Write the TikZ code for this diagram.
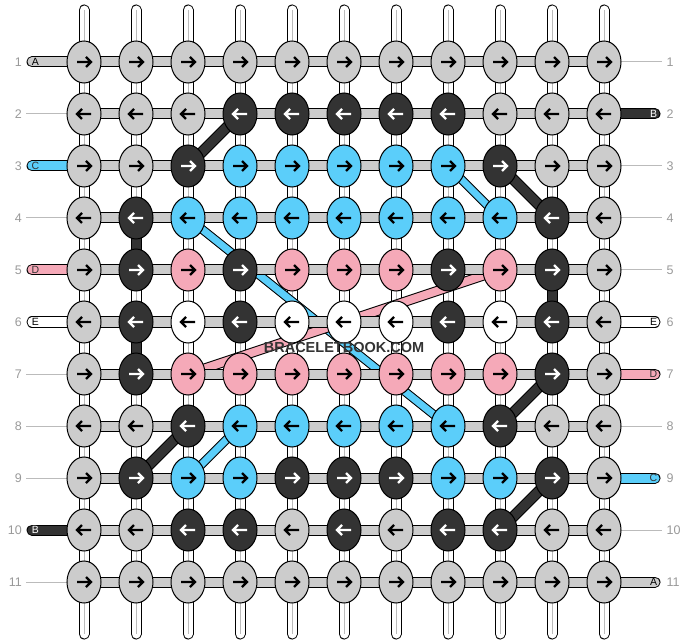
\documentclass[tikz,border=0pt]{standalone}
\usepackage{fontspec}
\setmainfont{Liberation Sans}
\usetikzlibrary{shapes.geometric}
\definecolor{kL}{HTML}{CCCCCC}
\definecolor{kD}{HTML}{333333}
\definecolor{kB}{HTML}{5BCEFA}
\definecolor{kP}{HTML}{F5A9B8}
\definecolor{kW}{HTML}{FFFFFF}
\definecolor{aL}{HTML}{000000}
\definecolor{aD}{HTML}{FFFFFF}
\definecolor{aB}{HTML}{000000}
\definecolor{aP}{HTML}{000000}
\definecolor{aW}{HTML}{000000}
\definecolor{labgray}{HTML}{999999}
\definecolor{linegray}{HTML}{BBBBBB}
\tikzset{
  knot/.style={ellipse, draw=black, line width=1pt, minimum width=34pt, minimum height=42pt, inner sep=0pt},
  arrowline/.style={line width=2.3pt, line cap=butt, line join=miter},
  vstrand/.style={draw=black, line width=1pt, double=white, double distance=9pt, line cap=round},
  vcenter/.style={draw=linegray, line width=1pt},
  hbar/.style={draw=black, line width=1pt, double=kL, double distance=9pt, line cap=butt},
  sidestrand/.style={draw=black, line width=1pt, double distance=9pt, line cap=round},
  diagline/.style={draw=black, line width=1pt, line cap=butt},
  vdark/.style={draw=black, line width=1pt, double=kD, double distance=9pt, line cap=butt},
  labline/.style={draw=linegray, line width=1pt},
  numlab/.style={text=labgray, font=\fontsize{12.5}{12.5}\selectfont, inner sep=0pt},
  endlab/.style={font=\fontsize{10.5}{10.5}\selectfont, inner sep=0pt},
}
\begin{document}
\begin{tikzpicture}[x=1pt,y=-1pt]
\useasboundingbox (0,0) rectangle (688,644);
% grid coordinates
\foreach \rw in {1,...,11}{
  \foreach \cl in {1,...,11}{
    \coordinate (p-\rw-\cl) at ({84+52*(\cl-1)},{62+52*(\rw-1)});
  }
  \coordinate (le-\rw) at (32,{62+52*(\rw-1)});
  \coordinate (re-\rw) at (655,{62+52*(\rw-1)});
  \coordinate (ll-\rw) at (26,{62+52*(\rw-1)});
  \coordinate (rl-\rw) at (662,{62+52*(\rw-1)});
}
\foreach \cl in {1,...,11}{
  \coordinate (t-\cl) at ({84+52*(\cl-1)},10);
  \coordinate (b-\cl) at ({84+52*(\cl-1)},634);
}
% vertical strands
\foreach \cl in {1,...,11}{
  \draw[vstrand] (t-\cl) -- (b-\cl);
  \draw[vcenter] (t-\cl) -- (b-\cl);
}
% diagonal strands
\draw[diagline, double=kD, double distance=9pt] (p-2-4) -- (p-3-3);
\draw[diagline, double=kB, double distance=7pt] (p-3-8) -- (p-4-9);
\draw[diagline, double=kD, double distance=9pt] (p-3-9) -- (p-4-10);
\draw[diagline, double=kB, double distance=7pt] (p-4-3) -- (p-8-8);
\draw[diagline, double=kP, double distance=8pt] (p-7-3) -- (p-5-9);
\draw[diagline, double=kD, double distance=9pt] (p-8-3) -- (p-9-2);
\draw[diagline, double=kB, double distance=7pt] (p-8-4) -- (p-9-3);
\draw[diagline, double=kD, double distance=9pt] (p-7-10) -- (p-8-9);
\draw[diagline, double=kD, double distance=9pt] (p-9-10) -- (p-10-9);
% horizontal bars
\foreach \rw in {1,...,11}{
  \draw[hbar] (p-\rw-1) -- (p-\rw-11);
}
% side lines for rows without strands
\foreach \rw in {2,4,7,8,9,11}{ \draw[labline] (ll-\rw) -- (p-\rw-1); }
\foreach \rw in {1,3,4,5,8,10}{ \draw[labline] (p-\rw-11) -- (rl-\rw); }
% side strands with letters
\foreach \rw/\col/\txt/\tc in {1/kL/A/black, 3/kB/C/kD, 5/kP/D/kD, 6/kW/E/black, 10/kD/B/white}{
  \draw[sidestrand, double=\col] (le-\rw) -- (p-\rw-1);
  \node[endlab, text=\tc] (lt-\rw) at (35.5,{62+52*(\rw-1)}) {\txt};
}
\foreach \rw/\col/\txt/\tc in {2/kD/B/white, 6/kW/E/black, 7/kP/D/kD, 9/kB/C/kD, 11/kL/A/black}{
  \draw[sidestrand, double=\col] (p-\rw-11) -- (re-\rw);
  \node[endlab, text=\tc] (rt-\rw) at (653.5,{62+52*(\rw-1)}) {\txt};
}
% row numbers
\foreach \rw in {1,...,11}{
  \node[numlab, anchor=east] (nl-\rw) at (22,{62+52*(\rw-1)}) {\rw};
  \node[numlab, anchor=west] (nr-\rw) at (666.5,{62+52*(\rw-1)}) {\rw};
}
% dark vertical connectors
\draw[vdark] (p-4-2) -- (p-5-2);
\draw[vdark] (p-6-2) -- (p-7-2);
\draw[vdark] (p-5-10) -- (p-6-10);
% knots
\foreach \rw/\cols in {
 1/{L,L,L,L,L,L,L,L,L,L,L},
 2/{L,L,L,D,D,D,D,D,L,L,L},
 3/{L,L,D,B,B,B,B,B,D,L,L},
 4/{L,D,B,B,B,B,B,B,B,D,L},
 5/{L,D,P,D,P,P,P,D,P,D,L},
 6/{L,D,W,D,W,W,W,D,W,D,L},
 7/{L,D,P,P,P,P,P,P,P,D,L},
 8/{L,L,D,B,B,B,B,B,D,L,L},
 9/{L,D,B,B,D,D,D,B,B,D,L},
 10/{L,L,D,D,L,D,L,D,D,L,L},
 11/{L,L,L,L,L,L,L,L,L,L,L}}{
  \pgfmathsetmacro\dir{ifthenelse(mod(\rw,2)==1,1,-1)}
  \foreach \kc [count=\cl] in \cols {
    \node[knot, fill=k\kc] (k-\rw-\cl) at (p-\rw-\cl) {};
    \draw[arrowline, draw=a\kc, shift={(p-\rw-\cl)}, xscale=\dir] (-7,0) -- (6.5,0) (2,-5) -- (7,0) -- (2,5);
  }
}
% watermark
\node[font=\bfseries\fontsize{14.5}{14.5}\selectfont, text=kD, inner sep=0pt] (wm) at (344,348) {BRACELETBOOK.COM};
\end{tikzpicture}
\end{document}
